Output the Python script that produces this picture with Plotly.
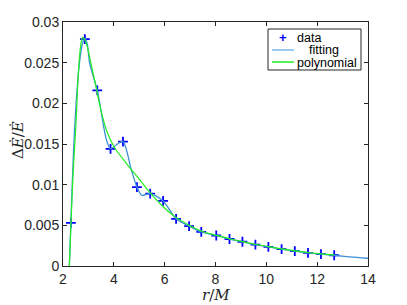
import plotly.graph_objects as go

# data points (+)
data_r = [2.31, 2.86, 3.35, 3.87, 4.36, 4.91, 5.43, 5.94, 6.45, 6.96, 7.44,
          8.03, 8.55, 9.06, 9.57, 10.08, 10.60, 11.12, 11.64, 12.15, 12.67]
data_y = [0.0053, 0.0279, 0.0216, 0.0144, 0.0153, 0.0097, 0.0089, 0.0080, 0.0058, 0.0049, 0.0042,
          0.00375, 0.00332, 0.00298, 0.00264, 0.00236, 0.00207, 0.00183, 0.00162, 0.00145, 0.00132]

# fitting curve
fit_r = [2.25, 2.31, 2.42, 2.55, 2.68, 2.80, 2.875, 2.96, 3.05, 3.35, 3.71, 3.87, 4.10, 4.36,
         4.69, 4.91, 5.10, 5.43, 5.94, 6.45, 6.96, 7.44, 8.03, 8.55, 9.06, 9.57, 10.08,
         10.60, 11.12, 11.64, 12.15, 12.67, 13.3, 14.0]
fit_y = [0.0, 0.0053, 0.0145, 0.0215, 0.0258, 0.0277, 0.02795, 0.0272, 0.0249, 0.0216, 0.0155, 0.0144,
         0.0149, 0.0153, 0.0118, 0.0097, 0.0087, 0.0089, 0.0080, 0.0058, 0.0049, 0.0042, 0.00375,
         0.00332, 0.00298, 0.00264, 0.00236, 0.00207, 0.00183, 0.00162, 0.00145, 0.00132, 0.00112, 0.00095]

# polynomial curve
poly_r = [2.25, 2.40, 2.51, 2.61, 2.70, 2.77, 2.90, 3.10, 3.24, 3.52, 3.71, 4.00, 4.50, 5.02,
          5.35, 5.87, 6.39, 6.96, 7.44, 8.03, 8.55, 9.06, 9.57, 10.08, 10.60, 11.12,
          11.64, 12.15, 12.67]
poly_y = [0.0, 0.0115, 0.0175, 0.0240, 0.0272, 0.0281, 0.0275, 0.0249, 0.0229, 0.0188, 0.0167,
          0.0147, 0.0126, 0.0106, 0.0093, 0.0075, 0.0061, 0.0050, 0.0043, 0.00378, 0.00335,
          0.00300, 0.00267, 0.00239, 0.00210, 0.00187, 0.00166, 0.00150, 0.00137]

x_ticks = [2, 4, 6, 8, 10, 12, 14]
y_ticks = [0, 0.005, 0.01, 0.015, 0.02, 0.025, 0.03]
y_tick_labels = ["0", "0.005", "0.01", "0.015", "0.02", "0.025", "0.03"]

legend_names = ["data", "fitting", "polynomial"]
x_title = "<i>r</i>/<i>M</i>"
y_title = "Δ<i>Ė</i>/<i>Ė</i>"

BLUE_M = "#0000ff"
BLUE_L = "#3b8fd4"
GREEN = "#22ee22"
AX = "#262626"
SANS = "Liberation Sans, Arial, sans-serif"
SERIF = "DejaVu Serif, serif"

fig = go.Figure()
fig.add_trace(go.Scatter(
    x=data_r, y=data_y, mode="markers", name=legend_names[0],
    marker=dict(symbol="cross-thin", size=7, color=BLUE_M,
                line=dict(color=BLUE_M, width=1.8))))
fig.add_trace(go.Scatter(
    x=fit_r, y=fit_y, mode="lines", name=legend_names[1],
    line=dict(color=BLUE_L, width=1.3, shape="spline", smoothing=0.8)))
fig.add_trace(go.Scatter(
    x=poly_r, y=poly_y, mode="lines", name=legend_names[2],
    line=dict(color=GREEN, width=1.2, shape="spline", smoothing=1.0)))

axis_common = dict(
    showline=True, linecolor=AX, linewidth=1, mirror="ticks",
    ticks="inside", ticklen=4, tickcolor=AX, tickwidth=1,
    showgrid=False, zeroline=False, automargin=False,
    tickfont=dict(family=SANS, size=14, color=AX),
)

fig.update_xaxes(range=[2, 14], tickvals=x_ticks, ticktext=[str(v) for v in x_ticks],
                 **axis_common)
fig.update_yaxes(range=[0, 0.03], tickvals=y_ticks, ticktext=y_tick_labels,
                 **axis_common)

# manual compact legend (MATLAB style) in paper coordinates
def px(xp):
    return (xp - 63) / 305.0

def py(yp):
    return (266 - yp) / 244.0

shapes = [
    dict(type="rect", xref="paper", yref="paper", x0=px(268), x1=px(361), y0=py(70), y1=py(29),
         line=dict(color=AX, width=1), fillcolor="white", layer="above"),
    dict(type="line", xref="paper", yref="paper", x0=px(272), x1=px(294), y0=py(50), y1=py(50),
         line=dict(color="#7ab8e6", width=1.5), layer="above"),
    dict(type="line", xref="paper", yref="paper", x0=px(272), x1=px(294), y0=py(62), y1=py(62),
         line=dict(color=GREEN, width=1.5), layer="above"),
]
annotations = [
    dict(xref="paper", yref="paper", x=px(282.5), y=py(38), text="<b>+</b>", showarrow=False,
         xanchor="center", yanchor="middle", font=dict(family=SANS, size=13, color=BLUE_M)),
    dict(xref="paper", yref="paper", x=px(296), y=py(37.5), text=legend_names[0], showarrow=False,
         xanchor="left", yanchor="middle", font=dict(family=SANS, size=12.5, color="#000")),
    dict(xref="paper", yref="paper", x=px(307.5), y=py(50), text=legend_names[1], showarrow=False,
         xanchor="left", yanchor="middle", font=dict(family=SANS, size=12.5, color="#000")),
    dict(xref="paper", yref="paper", x=px(295.5), y=py(62.5), text=legend_names[2], showarrow=False,
         xanchor="left", yanchor="middle", font=dict(family=SANS, size=12.5, color="#000")),
    # axis titles
    dict(xref="paper", yref="paper", x=0.5, y=py(295), text=x_title, showarrow=False,
         xanchor="center", yanchor="middle", font=dict(family=SERIF, size=15, color=AX)),
    dict(xref="paper", yref="paper", x=px(18), y=py(140), text=y_title, showarrow=False,
         textangle=-90, xanchor="center", yanchor="middle",
         font=dict(family=SERIF, size=15, color=AX)),
]
for a in annotations:
    a["borderpad"] = 0

fig.update_layout(
    width=407, height=305,
    margin=dict(l=63, r=39, t=22, b=39),
    paper_bgcolor="white", plot_bgcolor="white",
    showlegend=False,
    shapes=shapes, annotations=annotations,
)

fig.write_html("out.html", config={"displayModeBar": False},
               post_script="document.body.style.margin='0';document.body.style.padding='0';"
                           "document.documentElement.style.overflow='hidden';")
